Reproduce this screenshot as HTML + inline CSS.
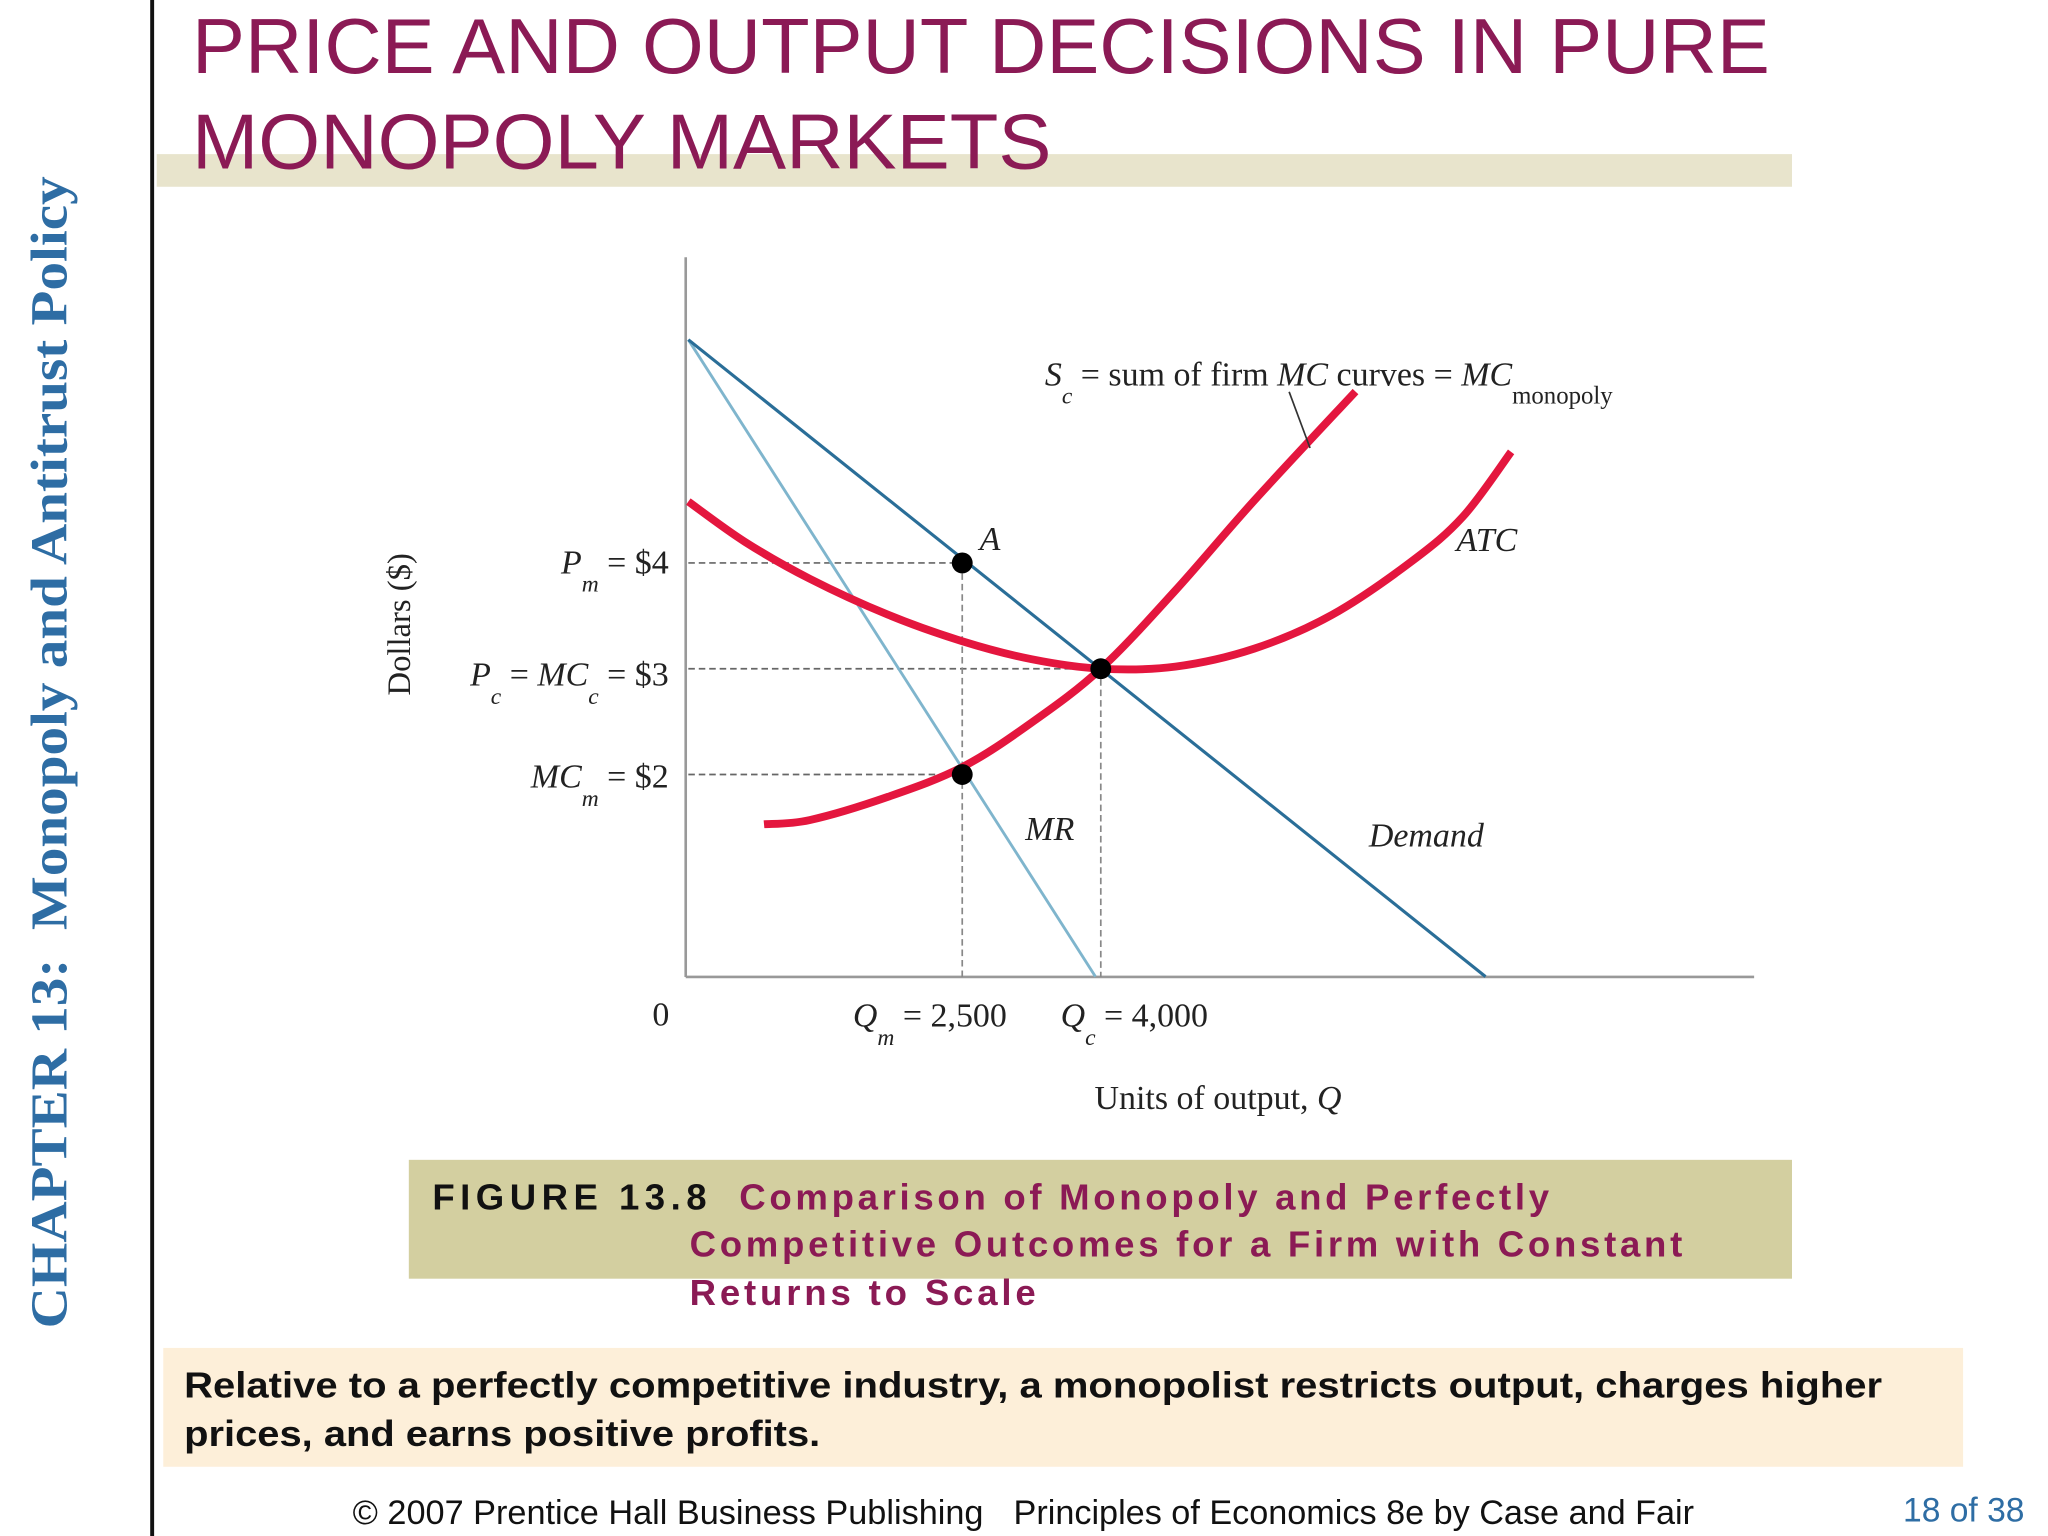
<!DOCTYPE html>
<html><head><meta charset="utf-8">
<style>
html,body{margin:0;padding:0;background:#fff;}
svg{display:block;}
.serif{font-family:"Liberation Serif",serif;}
.sans{font-family:"Liberation Sans",sans-serif;}
</style></head>
<body>
<svg id="chart" width="2048" height="1536" viewBox="0 0 1568 1176" preserveAspectRatio="none" xmlns="http://www.w3.org/2000/svg">
  <rect x="0" y="0" width="1568" height="1176" fill="#fff"/>
  <rect x="115" y="0" width="3" height="1176" fill="#111"/>
  <text class="serif" transform="translate(51,1017) rotate(-90)" font-size="40" font-weight="bold" fill="#2e6da4" textLength="882" lengthAdjust="spacingAndGlyphs" xml:space="preserve">CHAPTER 13:  Monopoly and Antitrust Policy</text>

  <rect x="120" y="118" width="1252" height="25" fill="#e8e4cc"/>
  <text class="sans" x="147" y="56" font-size="60" fill="#8b1a55" textLength="1208" lengthAdjust="spacingAndGlyphs">PRICE AND OUTPUT DECISIONS IN PURE</text>
  <text class="sans" x="147" y="129" font-size="60" fill="#8b1a55" textLength="658" lengthAdjust="spacingAndGlyphs">MONOPOLY MARKETS</text>

  <g id="plot"></g>

  <rect x="313" y="888" width="1059" height="91" fill="#d3cfa0"/>
  <text class="sans" x="331" y="926" font-size="28" font-weight="bold" fill="#111" textLength="210" lengthAdjust="spacing">FIGURE 13.8</text>
  <text class="sans" font-size="28" font-weight="bold" fill="#8b1a55">
    <tspan x="566" y="926" textLength="620" lengthAdjust="spacing">Comparison of Monopoly and Perfectly</tspan>
    <tspan x="528" y="962" textLength="760" lengthAdjust="spacing">Competitive Outcomes for a Firm with Constant</tspan>
    <tspan x="528" y="999" textLength="265" lengthAdjust="spacing">Returns to Scale</tspan>
  </text>

  <rect x="125" y="1032" width="1378" height="91" fill="#fdefd9"/>
  <text class="sans" font-size="28" font-weight="bold" fill="#111">
    <tspan x="141" y="1070" textLength="1300" lengthAdjust="spacingAndGlyphs">Relative to a perfectly competitive industry, a monopolist restricts output, charges higher</tspan>
    <tspan x="141" y="1107" textLength="487" lengthAdjust="spacingAndGlyphs">prices, and earns positive profits.</tspan>
  </text>

  <text class="sans" x="270" y="1167" font-size="26" fill="#111" textLength="483" lengthAdjust="spacingAndGlyphs">© 2007 Prentice Hall Business Publishing</text>
  <text class="sans" x="776" y="1167" font-size="26" fill="#111" textLength="521" lengthAdjust="spacingAndGlyphs">Principles of Economics 8e by Case and Fair</text>
  <text class="sans" x="1457" y="1165" font-size="26" fill="#2e6da4" textLength="93" lengthAdjust="spacingAndGlyphs">18 of 38</text>
</svg>
<script>
// data (abstract units: quantity index on x, dollars on y)
const demandPts = [[0, 6.11], [7.48, 0.09]];
const mrPts = [[0, 6.11], [3.82, 0.09]];
const mcPts = [[0.71, 1.53], [1.14, 1.57], [1.875, 1.79], [2.57, 2.07], [3.22, 2.49], [3.87, 3.0], [4.57, 3.74], [5.31, 4.59], [6.26, 5.62]];
const atcPts = [[0, 4.58], [0.53, 4.2], [1.14, 3.85], [1.875, 3.51], [2.57, 3.26], [3.22, 3.09], [3.87, 3.0], [4.57, 3.02], [5.31, 3.19], [6.04, 3.51], [6.78, 4.01], [7.27, 4.44], [7.72, 5.05]];
const keyQ = [2.57, 3.87];
const keyP = [4, 3, 2];
const eqPoints = [[2.57, 4], [3.87, 3], [2.57, 2]];

const NS = "http://www.w3.org/2000/svg";
const g = document.getElementById('plot');
const X0 = 527, XS = 81.6, Y0 = 755, YS = 81;
const xs = q => X0 + q * XS;
const ys = p => Y0 - p * YS;
function el(tag, attrs, parent) {
  const e = document.createElementNS(NS, tag);
  for (const k in attrs) e.setAttribute(k, attrs[k]);
  (parent || g).appendChild(e);
  return e;
}
function smooth(pts) {
  const P = pts.map(p => [xs(p[0]), ys(p[1])]);
  let d = `M${P[0][0]},${P[0][1]}`;
  for (let i = 0; i < P.length - 1; i++) {
    const p0 = P[i - 1] || P[i], p1 = P[i], p2 = P[i + 1], p3 = P[i + 2] || p2;
    const c1 = [p1[0] + (p2[0] - p0[0]) / 6, p1[1] + (p2[1] - p0[1]) / 6];
    const c2 = [p2[0] - (p3[0] - p1[0]) / 6, p2[1] - (p3[1] - p1[1]) / 6];
    d += ` C${c1[0]},${c1[1]} ${c2[0]},${c2[1]} ${p2[0]},${p2[1]}`;
  }
  return d;
}
let a = el('line', {x1: 525, y1: 197, x2: 525, y2: 748, stroke: '#999', 'stroke-width': 2});


a = el('line', {x1: 525, y1: 748, x2: 1343, y2: 748, stroke: '#999', 'stroke-width': 2});


eqPoints.forEach(pt => {
  const h = el('line', {x1: 527, y1: ys(pt[1]), x2: xs(pt[0]), y2: ys(pt[1]), stroke: '#666', 'stroke-width': 1.3, 'stroke-dasharray': '5 3'});
  
  
});
keyQ.forEach(q => {
  const v = el('line', {x1: xs(q), y1: ys(Math.max(...eqPoints.filter(p => p[0] === q).map(p => p[1]))), x2: xs(q), y2: 748, stroke: '#888', 'stroke-width': 1.3, 'stroke-dasharray': '5 3'});
  
  
});
let l = el('line', {x1: xs(mrPts[0][0]), y1: ys(mrPts[0][1]), x2: xs(mrPts[1][0]), y2: ys(mrPts[1][1]), stroke: '#7fb5cd', 'stroke-width': 2.2});


l = el('line', {x1: xs(demandPts[0][0]), y1: ys(demandPts[0][1]), x2: xs(demandPts[1][0]), y2: ys(demandPts[1][1]), stroke: '#2a6e98', 'stroke-width': 2.4});


let c = el('path', {d: smooth(atcPts), fill: 'none', stroke: '#e4163e', 'stroke-width': 6});


c = el('path', {d: smooth(mcPts), fill: 'none', stroke: '#e4163e', 'stroke-width': 6});


eqPoints.forEach(pt => {
  const d = el('circle', {cx: xs(pt[0]), cy: ys(pt[1]), r: 8, fill: '#000'});
  
  
});
l = el('line', {x1: 987, y1: 300, x2: 1003, y2: 343, stroke: '#333', 'stroke-width': 1.3});


function label(html, x, y, name, anchor, size) {
  const t = el('text', {x: x, y: y, 'font-family': '"Liberation Serif", serif', 'font-size': size || 26, fill: '#222', 'text-anchor': anchor || 'start'});
  t.innerHTML = html;
  
  
  return t;
}
const sub = s => `<tspan font-style="italic" font-size="18" dy="14">${s}</tspan><tspan dy="-14">  </tspan>`;
label(`<tspan font-style="italic">P</tspan>${sub('m')}= $${keyP[0]}`, 512, ys(keyP[0]) + 8, 'pm-label', 'end');
label(`<tspan font-style="italic">P</tspan>${sub('c')}= <tspan font-style="italic">MC</tspan>${sub('c')}= $${keyP[1]}`, 512, ys(keyP[1]) + 13, 'pc-label', 'end');
label(`<tspan font-style="italic">MC</tspan>${sub('m')}= $${keyP[2]}`, 512, ys(keyP[2]) + 10, 'mcm-label', 'end');
label('0', 506, 785, 'origin-label', 'middle');
label(`<tspan font-style="italic">Q</tspan>${sub('m')}= 2,500`, 653, 786, 'qm-label');
label(`<tspan font-style="italic">Q</tspan>${sub('c')}= 4,000`, 812, 786, 'qc-label');
label('Units of output, <tspan font-style="italic">Q</tspan>', 838, 849, 'x-axis-title');
const yt = label('Dollars ($)', 0, 0, 'y-axis-title', 'middle', 25);
yt.setAttribute('transform', 'translate(314,478) rotate(-90)');
label(`<tspan font-style="italic">S</tspan>${sub('c')}= sum of firm <tspan font-style="italic">MC</tspan> curves = <tspan font-style="italic">MC</tspan><tspan font-size="19" dy="14">monopoly</tspan>`, 800, 295, 'mc-curve-label');
label('<tspan font-style="italic">A</tspan>', 750, 421, 'point-a-label');
label('<tspan font-style="italic">ATC</tspan>', 1115, 422, 'atc-label');
label('<tspan font-style="italic">MR</tspan>', 785, 643, 'mr-label');
label('<tspan font-style="italic">Demand</tspan>', 1048, 648, 'demand-label');
</script>
</body></html>
